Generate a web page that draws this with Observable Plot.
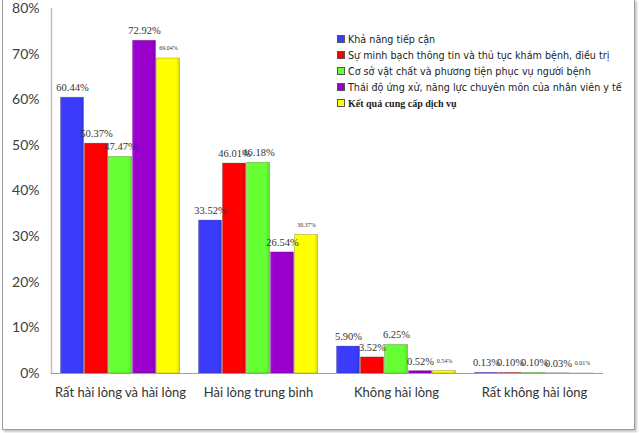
<!DOCTYPE html>
<html><head><meta charset="utf-8">
<script src="https://cdn.jsdelivr.net/npm/d3@7"></script>
<script src="https://cdn.jsdelivr.net/npm/@observablehq/plot@0.6"></script>
<style>
body{margin:0;background:#fff;}
#wrap{position:relative;width:640px;height:433px;overflow:hidden;}
#frame{position:absolute;left:2px;top:-1px;width:631px;height:429px;border:1px solid #9a9a9a;box-shadow:2px 2px 2px #c8c8c8;pointer-events:none;}
#legend{position:absolute;left:337px;top:32px;font-family:"DejaVu Sans",Verdana,sans-serif;font-size:9.6px;color:#222;line-height:15.9px;}
#legend div{white-space:nowrap;}
#legend span{display:inline-block;width:6px;height:6px;border:1px solid #555;margin-right:3px;vertical-align:0px;}
#legend .b{font-family:"Liberation Serif","DejaVu Serif",serif;font-weight:bold;font-size:10px;}
</style></head>
<body><div id="wrap"><svg width="0" height="0" style="position:absolute"><defs id="defs"></defs></svg><div id="chart"></div><div id="legend"></div><div id="frame"></div></div>
<script>
const categories = ["Rất hài lòng và hài lòng", "Hài lòng trung bình", "Không hài lòng", "Rất không hài lòng"];
const seriesNames = [
  "Khả năng tiếp cận",
  "Sự minh bạch thông tin và thủ tục khám bệnh, điều trị",
  "Cơ sở vật chất và phương tiện phục vụ người bệnh",
  "Thái độ ứng xử, năng lực chuyên môn của nhân viên y tế",
  "Kết quả cung cấp dịch vụ"
];
const colors = ["#3b3bfa", "#ff0000", "#66ff33", "#9900cc", "#ffff00"];
const accessValues = [60.44, 33.52, 5.90, 0.13];
const transparencyValues = [50.37, 46.01, 3.52, 0.10];
const facilityValues = [47.47, 46.18, 6.25, 0.10];
const attitudeValues = [72.92, 26.54, 0.52, 0.03];
const resultValues = [69.04, 30.37, 0.54, 0.01];
const yTicks = [0, 10, 20, 30, 40, 50, 60, 70, 80];

const seriesValues = [accessValues, transparencyValues, facilityValues, attitudeValues, resultValues];
const data = [];
categories.forEach((c, i) => seriesNames.forEach((s, j) => data.push({cat: c, series: s, idx: j, value: seriesValues[j][i], small: j === 4})));

// bevel-like gradients
const defs = document.getElementById("defs");
colors.forEach((c, j) => {
  const lt = d3.color(c).brighter(0.6).formatHex();
  const dk = d3.color(c).darker(0.4).formatHex();
  defs.innerHTML += `<linearGradient id="g${j}" x1="0" x2="1" y1="0" y2="0">
    <stop offset="0" stop-color="${lt}"/><stop offset="0.12" stop-color="${c}"/>
    <stop offset="0.85" stop-color="${c}"/><stop offset="1" stop-color="${dk}"/></linearGradient>`;
});

const chart = Plot.plot({
  width: 640, height: 433,
  marginLeft: 50, marginRight: 37, marginTop: 8, marginBottom: 60,
  style: {fontFamily: "Lato, 'Open Sans', sans-serif", background: "transparent"},
  fx: {domain: categories, padding: 0, label: null, axis: null},
  x: {domain: seriesNames, axis: null, paddingInner: 0, paddingOuter: 0.35},
  y: {domain: [0, 80], label: null, axis: null},
  color: {type: "identity"},
  marks: [
    Plot.frame({anchor: "left", facetAnchor: "left", stroke: "#c0c0c0", strokeWidth: 1.5}),
    Plot.axisY({ticks: yTicks, tickFormat: d => d + "%", tickSize: 0, tickPadding: 12, fontSize: 14, color: "#404040", facetAnchor: "left", anchor: "left"}),
    Plot.axisFx({anchor: "bottom", tickSize: 0, tickPadding: 14, fontSize: 13, color: "#333", label: null}),
    Plot.barY(data, {fx: "cat", x: "series", y: "value", fill: d => `url(#g${d.idx})`, stroke: "#000", strokeOpacity: 0.25, strokeWidth: 0.8, insetLeft: 0.5, insetRight: 0.5}),
    Plot.ruleY([0], {stroke: "#a0a0a0", strokeWidth: 1}),
    Plot.text(data, {fx: "cat", x: "series", y: "value", text: d => d.value.toFixed(2) + "%", dy: -10,
      fontSize: d => d.small ? 6 : 10.5, fontFamily: "'Liberation Serif','DejaVu Serif',serif", fill: "#333"})
  ]
});
document.getElementById("chart").appendChild(chart);

const leg = document.getElementById("legend");
seriesNames.forEach((s, j) => {
  const d = document.createElement("div");
  if (j === 4) d.className = "b";
  d.innerHTML = `<span style="background:${colors[j]}"></span>${s}`;
  leg.appendChild(d);
});
</script></body></html>
